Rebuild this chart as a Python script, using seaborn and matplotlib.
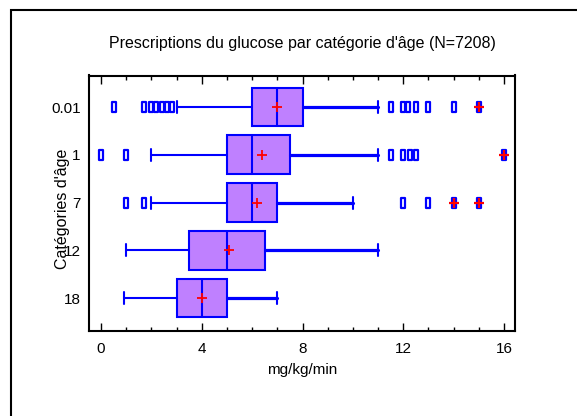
import numpy as np
import pandas as pd
import seaborn as sns
import matplotlib
matplotlib.use("Agg")
import matplotlib.pyplot as plt
from matplotlib.patches import Rectangle
from matplotlib.path import Path

# ---- data ----
categories = ["0.01", "1", "7", "12", "18"]
q1 = [6.0, 5.0, 5.0, 3.5, 3.0]
median = [7.0, 6.0, 6.0, 5.0, 4.0]
q3 = [8.0, 7.5, 7.0, 6.5, 5.0]
mean = [7.0, 6.4, 6.2, 5.1, 4.0]
whisker_low = [3.0, 2.0, 2.0, 1.0, 0.9]
whisker_high = [11.0, 11.0, 10.0, 11.0, 7.0]
outliers = [
    [0.5, 1.7, 2.0, 2.2, 2.4, 2.6, 2.8, 11.5, 12.0, 12.2, 12.5, 13.0, 14.0, 15.0],
    [0.0, 1.0, 11.5, 12.0, 12.25, 12.5, 16.0],
    [1.0, 1.7, 12.0, 13.0, 14.0, 15.0],
    [],
    [],
]
extremes = [[15.0], [16.0], [14.0, 15.0], [], []]
x_ticks = [0, 4, 8, 12, 16]

sns.set_style("white")
plt.rcParams['font.family'] = ['Liberation Sans', 'DejaVu Sans']
plt.rcParams['text.color'] = 'black'
plt.rcParams['axes.labelcolor'] = 'black'
plt.rcParams['xtick.color'] = 'black'
plt.rcParams['ytick.color'] = 'black'

fig = plt.figure(figsize=(5.77, 4.16), dpi=100)
ax = fig.add_axes([89/577, 1-331/416, (515-89)/577, (331-75.5)/416])

stats = []
for i, c in enumerate(categories):
    stats.append(dict(label=c, q1=q1[i], med=median[i], q3=q3[i],
                      whislo=whisker_low[i], whishi=whisker_high[i], fliers=[]))
pos = list(range(len(categories)))
res = ax.bxp(stats, positions=pos, vert=False, widths=0.81, patch_artist=True,
             showfliers=False, capwidths=0.25,
             boxprops=dict(facecolor="#BF80FF", edgecolor="#0000FF", linewidth=1.5),
             medianprops=dict(color="#0000FF", linewidth=1.5),
             whiskerprops=dict(color="#0000FF", linewidth=1.5),
             capprops=dict(color="#0000FF", linewidth=1.5))
for j, w in enumerate(res['whiskers']):
    if j % 2 == 1:
        w.set_linewidth(2.3)

# outliers
rect = Path([(-0.55, -1), (0.55, -1), (0.55, 1), (-0.55, 1), (-0.55, -1)],
            [Path.MOVETO, Path.LINETO, Path.LINETO, Path.LINETO, Path.CLOSEPOLY])
ox, oy = [], []
for i, vals in enumerate(outliers):
    for v in vals:
        ox.append(v); oy.append(i)
df_out = pd.DataFrame({"x": ox, "y": oy})
sns.scatterplot(data=df_out, x="x", y="y", marker=rect, s=42, facecolor="white",
                edgecolor="#0000FF", linewidth=1.6, ax=ax, zorder=4)

ex, ey = [], []
for i, vals in enumerate(extremes):
    for v in vals:
        ex.append(v); ey.append(i)
df_ex = pd.DataFrame({"x": ex, "y": ey})
sns.scatterplot(data=df_ex, x="x", y="y", marker="+", s=60, color="red",
                linewidth=1.6, ax=ax, zorder=5)

df_mean = pd.DataFrame({"x": mean, "y": pos})
sns.scatterplot(data=df_mean, x="x", y="y", marker="+", s=50, color="red",
                linewidth=1.3, ax=ax, zorder=5)

ax.set_xlim(-0.48, 16.44)
ax.set_ylim(4.69, -0.66)
ax.set_xticks(x_ticks)
ax.set_xticks(np.arange(0, 17, 1), minor=True)
ax.set_yticks(pos)
ax.set_yticklabels(categories, fontsize=11)
ax.set_xticklabels([str(t) for t in x_ticks], fontsize=11)
ax.tick_params(axis='x', which='major', direction='in', length=6, width=1, top=True, bottom=True, pad=8)
ax.tick_params(axis='x', which='minor', direction='in', length=3, width=1, top=True, bottom=True)
ax.tick_params(axis='y', length=0, pad=6)
for s in ax.spines.values():
    s.set_color("black"); s.set_linewidth(1.5); s.set_visible(True)
ax.set_xlabel("mg/kg/min", fontsize=11, labelpad=5)
ax.set_ylabel("")
fig.text(62/577, 1-209/416, "Catégories d'âge", rotation=90, ha="center", va="center", fontsize=11.5)
ax.set_title("Prescriptions du glucose par catégorie d'âge (N=7208)", fontsize=11.5, pad=20)

fig.patches.append(Rectangle((11/577, -0.2), 1.2, 1.2 - 10/416, transform=fig.transFigure,
                             fill=False, edgecolor="black", linewidth=1.5))

fig.savefig("out.png", dpi=100)
